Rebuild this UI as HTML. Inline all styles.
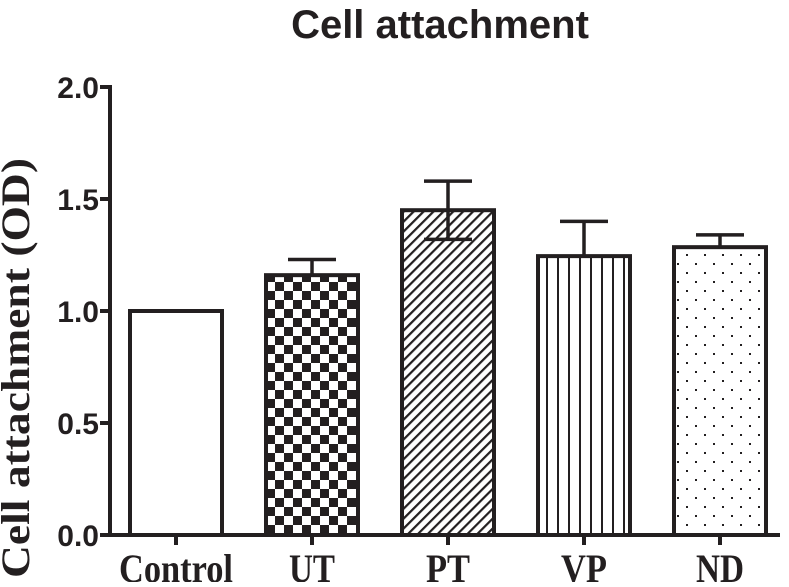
<!DOCTYPE html>
<html><head><meta charset="utf-8"><style>
body{margin:0;background:#fff}
text{font-family:"Liberation Serif",serif;font-weight:bold;fill:#231f20}
</style></head><body>
<svg width="789" height="582" viewBox="0 0 789 582">
<defs>
<pattern id="checker" width="18" height="18" patternUnits="userSpaceOnUse" x="266" y="273">
<rect width="18" height="18" fill="#fff"/><rect width="9" height="9" fill="#231f20"/><rect x="9" y="9" width="9" height="9" fill="#231f20"/></pattern>
<pattern id="diag" width="7" height="7" patternUnits="userSpaceOnUse" patternTransform="rotate(45)">
<rect width="7" height="7" fill="#fff"/><rect width="2.2" height="7" fill="#231f20"/></pattern>
<pattern id="vert" width="11" height="10" patternUnits="userSpaceOnUse" x="537">
<rect width="11" height="10" fill="#fff"/><rect x="9" width="2" height="10" fill="#231f20"/></pattern>
<pattern id="dots" width="18" height="18" patternUnits="userSpaceOnUse">
<rect width="18" height="18" fill="#fff"/><rect x="2" y="2" width="2" height="2" fill="#231f20"/><rect x="11" y="11" width="2" height="2" fill="#231f20"/></pattern>
</defs>
<text x="440" y="38" style="font-family:'Liberation Sans',sans-serif" font-size="40" text-anchor="middle">Cell attachment</text>
<text transform="translate(29,368) rotate(-90)" font-size="40" text-anchor="middle" textLength="420" lengthAdjust="spacingAndGlyphs">Cell attachment (OD)</text>
<g id="axes"></g>
<g id="bars"></g>
</svg>
<script>
const categories=["Control","UT","PT","VP","ND"];
const values=[1.0,1.16,1.45,1.245,1.285];
const errUpper=[0,0.07,0.13,0.155,0.055];
const errLower=[0,0,0.13,0,0];
const yTicks=[0,0.5,1.0,1.5,2.0];
const yTickLabels=["0.0","0.5","1.0","1.5","2.0"];
const fills=["#fff","url(#checker)","url(#diag)","url(#vert)","url(#dots)"];
const labelWidths=[114,46,44,46,48];
const NS="http://www.w3.org/2000/svg";
const y0=535,yTop=87,xAxis=110;
function y(v){return y0-(v/2)*(y0-yTop);}
function xc(i){return 176+i*136;}
function mk(t,a,p){const e=document.createElementNS(NS,t);for(const k in a)e.setAttribute(k,a[k]);p.appendChild(e);return e;}
const ax=document.getElementById('axes'),bg=document.getElementById('bars');
let l=mk('line',{x1:xAxis,y1:yTop-2,x2:xAxis,y2:y0+2,stroke:'#231f20','stroke-width':4},ax);


l=mk('line',{x1:xAxis-2,y1:y0,x2:780,y2:y0,stroke:'#231f20','stroke-width':4},ax);


yTicks.forEach((v,i)=>{
 const t=mk('line',{x1:xAxis-10,y1:y(v),x2:xAxis,y2:y(v),stroke:'#231f20','stroke-width':4},ax);
 
 
 const tx=mk('text',{x:xAxis-11,y:y(v)+11,'font-size':30,'text-anchor':'end'},ax);
 tx.style.fontFamily="'Liberation Sans',sans-serif";
 tx.textContent=yTickLabels[i];
 
 
});
categories.forEach((c,i)=>{
 const cx=xc(i),w=92;
 const r=mk('rect',{x:cx-w/2,y:y(values[i]),width:w,height:y0-y(values[i]),fill:fills[i],stroke:'#231f20','stroke-width':4},bg);
 
 
 if(errUpper[i]>0||errLower[i]>0){
  const g=mk('g',{stroke:'#231f20','stroke-width':3.5},bg);
  
  
  const top=y(values[i]+errUpper[i]),bot=y(values[i]-errLower[i]);
  mk('line',{x1:cx,y1:top,x2:cx,y2:bot},g);
  mk('line',{x1:cx-24,y1:top,x2:cx+24,y2:top},g);
  if(errLower[i]>0)mk('line',{x1:cx-24,y1:bot,x2:cx+24,y2:bot},g);
 }
 const t=mk('line',{x1:cx,y1:y0,x2:cx,y2:y0+10,stroke:'#231f20','stroke-width':4},ax);
 
 
 const tx=mk('text',{x:cx,y:582,'font-size':40,'text-anchor':'middle',textLength:labelWidths[i],lengthAdjust:'spacingAndGlyphs'},ax);
 tx.textContent=c;
 
 
});
</script>
</body></html>
